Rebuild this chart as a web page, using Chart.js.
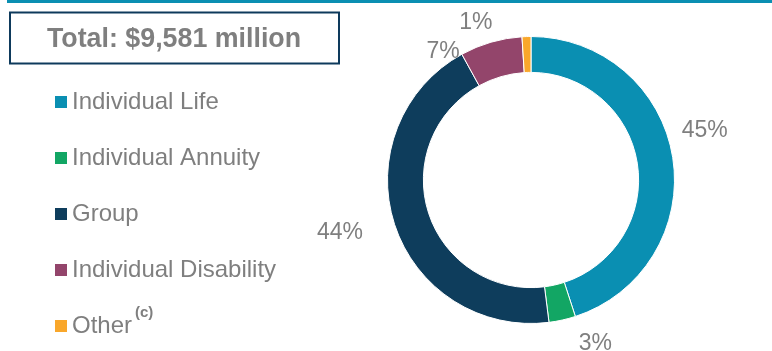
<!DOCTYPE html>
<html>
<head>
<meta charset="utf-8">
<script src="https://cdn.jsdelivr.net/npm/chart.js@4"></script>
<style>
    html, body { margin: 0; padding: 0; background: #ffffff; }
    #mix { display: block; }
</style>
</head>
<body>
<canvas id="mix" width="772" height="351"></canvas>
<script>
// Premium mix by business line
const totalText = 'Total: $9,581 million';
const segments = ['Individual Life', 'Individual Annuity', 'Group', 'Individual Disability', 'Other'];
const shares = [45, 3, 44, 7, 1];
const segmentColors = ['#0a8fb2', '#12a664', '#0e3d5c', '#93456b', '#f9a72b'];
const footnotes = ['', '', '', '', '(c)'];

// outside-label nudges: degrees along the ring, distance from centre
const labelAngleShift = [-7.3, -9, 2.8, -18.1, -17.4];
const labelRadius = [181, 175, 198, 156, 168];

const grey = '#7f7f7f';
const font = 'Arial, "Liberation Sans", sans-serif';

const frame = {
    id: 'frame',
    beforeDraw(chart) {
        const ctx = chart.ctx;
        ctx.save();
        // top rule
        ctx.fillStyle = '#0a8fb2';
        ctx.fillRect(7, 0, 765, 3);

        // total box
        ctx.strokeStyle = '#0e3a5c';
        ctx.lineWidth = 2;
        ctx.strokeRect(10, 12.5, 329, 51);
        ctx.fillStyle = grey;
        ctx.font = 'bold 26.8px ' + font;
        ctx.textAlign = 'center';
        ctx.textBaseline = 'alphabetic';
        ctx.fillText(totalText, 174, 47);

        // legend
        ctx.textAlign = 'left';
        segments.forEach((name, i) => {
            const base = 109 + i * 56;
            ctx.fillStyle = segmentColors[i];
            ctx.fillRect(55, base - 13, 12, 12);
            ctx.fillStyle = grey;
            ctx.font = '24px ' + font;
            ctx.fillText(name, 72, base);
            if (footnotes[i]) {
                const w = ctx.measureText(name).width;
                ctx.font = 'bold 15px ' + font;
                ctx.fillText(footnotes[i], 72 + w + 3, base - 16);
            }
        });
        ctx.restore();
    },
    afterDatasetsDraw(chart) {
        const ctx = chart.ctx;
        const arcs = chart.getDatasetMeta(0).data;
        ctx.save();
        ctx.fillStyle = grey;
        ctx.font = '23px ' + font;
        ctx.textAlign = 'center';
        ctx.textBaseline = 'middle';
        arcs.forEach((arc, i) => {
            const mid = (arc.startAngle + arc.endAngle) / 2 + labelAngleShift[i] * Math.PI / 180;
            const x = arc.x + labelRadius[i] * Math.cos(mid);
            const y = arc.y + labelRadius[i] * Math.sin(mid);
            ctx.fillText(shares[i] + '%', x, y + 1);
        });
        ctx.restore();
    }
};

new Chart(document.getElementById('mix'), {
    type: 'doughnut',
    data: {
        labels: segments,
        datasets: [{
            data: shares,
            backgroundColor: segmentColors,
            borderColor: '#ffffff',
            borderWidth: 1
        }]
    },
    options: {
        responsive: false,
        animation: false,
        cutout: '75%',
        layout: { padding: { left: 387, right: 97, top: 36, bottom: 27 } },
        plugins: {
            legend: { display: false },
            tooltip: { enabled: false }
        }
    },
    plugins: [frame]
});
</script>
</body>
</html>
